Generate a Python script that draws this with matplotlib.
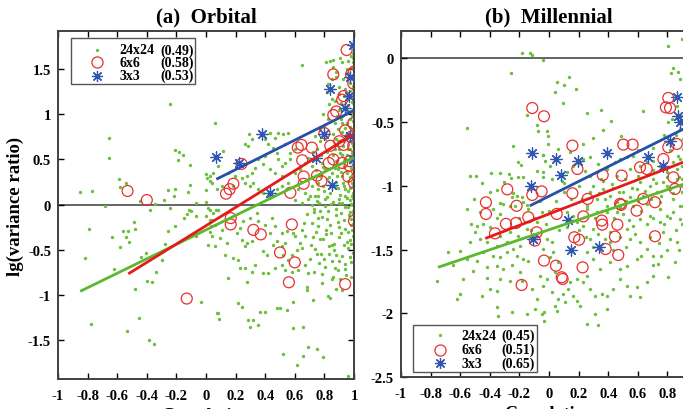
import numpy as np
import matplotlib
matplotlib.use("Agg")
import matplotlib.pyplot as plt
from matplotlib.patches import Rectangle
from matplotlib.ticker import FuncFormatter

plt.rcParams['font.family'] = ['Liberation Serif', 'DejaVu Serif']
plt.rcParams['font.weight'] = 'bold'
plt.rcParams['axes.unicode_minus'] = False

# ---------------- data: panel (a) Orbital ----------------
a_green = [
    (-0.24,1.11),(-0.655,0.737),(-0.658,0.52),(-0.21,0.603),(-0.185,0.581),(-0.155,0.552),(-0.19,0.489),
    (-0.11,0.437),(0.0,0.333),(0.01,0.296),(0.03,0.259),(-0.59,0.281),(-0.54,0.237),(-0.58,0.196),
    (-0.854,0.137),(-0.77,0.152),(-0.26,0.165),(-0.21,0.176),(-0.11,0.218),(0.0,0.163),(-0.214,0.093),
    (-0.124,0.137),(-0.448,0.037),(-0.347,0.011),(-0.284,0.048),(-0.685,-0.011),(-0.07,0.018),(0.0,0.033),
    (0.03,-0.056),(0.07,-0.056),(-0.38,-0.059),(-0.24,-0.037),(-0.117,-0.056),(-0.10,-0.074),(-0.126,-0.104),
    (-0.15,-0.148),(-0.21,-0.233),(-0.257,-0.289),(-0.065,-0.13),(0.0,-0.13),(0.04,-0.167),(0.036,-0.241),
    (-0.065,-0.344),(0.025,-0.307),(-0.79,-0.27),(-0.486,-0.196),(-0.482,-0.27),(-0.56,-0.296),(-0.527,-0.296),
    (-0.635,-0.359),(-0.538,-0.359),(-0.52,-0.419),(-0.58,-0.474),(-0.275,-0.441),(-0.403,-0.533),(-0.437,-0.585),
    (-0.295,-0.611),(-0.34,-0.744),(-0.82,-0.589),(-0.624,-0.711),(-0.399,-0.844),(-0.365,-0.859),(-0.482,-0.93),
    (-0.032,-1.081),(0.077,-1.196),(-0.453,-1.252),(-0.777,-1.319),(-0.532,-1.404),(-0.385,-1.50),(-0.351,-1.544),
    (0.651,1.548),(0.838,1.592),(0.86,1.603),(0.808,1.574),(0.905,1.618),(0.917,1.574),(0.962,1.592),(0.876,1.463),
    (0.849,1.389),(0.826,1.333),(0.815,1.241),(0.849,1.167),(0.831,1.111),(0.793,1.0),(0.826,0.944),(0.797,0.87),
    (0.77,0.833),(0.736,0.759),(0.77,0.704),(0.804,0.722),(0.06,0.907),(0.293,0.785),(0.309,0.722),(0.264,0.667),
    (0.286,0.648),(0.432,0.793),(0.466,0.741),(0.488,0.793),(0.522,0.778),(0.556,0.793),(0.399,0.722),(0.421,0.667),
    (0.455,0.63),(0.477,0.574),(0.534,0.667),(0.567,0.574),(0.601,0.611),(0.567,0.5),(0.534,0.463),(0.488,0.5),
    (0.511,0.426),(0.399,0.537),(0.354,0.5),(0.387,0.444),(0.432,0.389),(0.466,0.352),(0.511,0.315),(0.331,0.407),
    (0.309,0.352),(0.275,0.315),(0.241,0.296),(0.264,0.241),(0.297,0.204),(0.32,0.241),(0.117,0.593),(0.083,0.426),
    (0.05,0.352),(0.027,0.315),(0.038,0.241),(0.072,0.167),(0.106,0.204),(0.151,0.352),(0.196,0.315),(0.185,0.204),
    (0.354,0.167),(0.387,0.13),(0.421,0.093),(0.477,0.167),(0.511,0.204),(0.556,0.241),(0.601,0.352),(0.635,0.389),
    (0.669,0.463),(0.691,0.519),(0.714,0.426),(0.624,0.167),(0.669,0.13),(0.714,0.204),(0.759,0.167),(0.736,0.093),
    (0.691,0.056),(0.781,0.463),(0.804,0.389),(0.77,0.315),(0.815,0.278),(0.793,0.204),(0.759,0.093),(0.804,0.056),
    (0.838,0.13),(0.872,0.204),
    (0.883,0.981),(0.894,0.833),(0.917,0.907),(0.939,0.759),(0.928,0.648),(0.905,0.574),(0.894,0.389),(0.917,0.315),
    (0.928,0.241),(0.939,0.167),(0.905,0.111),(0.95,0.074),(0.883,0.315),(0.939,0.5),(0.962,0.611),(0.95,1.019),
    (0.962,1.167),(0.939,1.278),(0.928,1.389),(0.95,1.5),(0.973,0.944),(0.984,0.833),(0.995,0.648),(0.984,0.574),
    (0.995,0.389),(0.984,0.241),(0.995,0.13),(0.99,1.056),(0.99,1.315),(0.99,1.574),(0.979,1.648),
    (0.6,0.05),(0.65,0.02),(0.7,0.1),(0.75,0.04),(0.82,0.08),(0.86,0.03),(0.9,0.06),(0.93,0.2),(0.96,0.15),
    (0.97,0.3),(0.88,0.25),(0.85,0.35),(0.9,0.45),(0.95,0.35),(0.92,0.55),(0.97,0.7),(0.94,0.85),(0.91,0.95),
    (0.96,1.1),(0.93,1.2),(0.97,1.35),(0.95,1.45),(0.9,1.3),(0.87,0.62),(0.86,0.78),(0.89,0.7),(0.91,1.12),
    (0.995,-0.21),(0.995,-0.1),(0.995,0.0),(0.995,0.07),(0.995,0.2),(0.995,0.3),(0.995,0.45),(0.995,0.55),
    (0.995,0.72),(0.995,0.8),(0.995,0.92),(0.995,1.0),(0.995,1.12),(0.995,1.2),(0.995,1.28),(0.995,1.42),
    (0.995,1.5),(0.995,1.62),(0.995,1.68),
    (0.86,1.52),(0.88,1.41),(0.9,1.22),(0.87,1.15),(0.9,1.05),(0.92,0.98),(0.87,0.9),(0.95,0.9),(0.92,0.8),
    (0.96,0.78),(0.88,0.72),(0.93,0.7),(0.97,0.62),(0.9,0.62),(0.86,0.55),(0.95,0.55),(0.97,0.52),(0.88,0.48),
    (0.93,0.42),(0.98,0.4),(0.87,0.4),(0.91,0.36),(0.96,0.26),(0.89,0.18),(0.94,0.1),(0.97,0.05),(0.92,0.02),
    (0.88,-0.05),(0.96,-0.03),(0.98,-0.16),(0.93,-0.17),(0.89,-0.19),(0.96,-0.3),(0.91,-0.32),(0.98,-0.44),
    (0.93,-0.45),(0.88,-0.56),(0.97,-0.58),(0.94,-0.71),(0.98,-0.8),(0.985,1.52),(0.975,1.26),(0.985,1.14),
    (0.97,1.04),(0.985,0.98),(0.975,0.86),(0.985,0.68),(0.975,0.47),(0.985,0.33),(0.975,0.18),(0.985,0.09),
    (0.975,-0.08),(0.985,-0.28),(0.975,-0.39),
    (0.72,0.58),(0.75,0.62),(0.78,0.55),(0.82,0.58),(0.74,0.38),(0.79,0.42),(0.83,0.31),(0.72,0.3),(0.76,0.24),
    (0.8,0.15),(0.84,0.2),(0.73,-0.05),(0.77,-0.07),(0.82,-0.16),(0.84,-0.23),(0.79,-0.38),(0.74,-0.3),
    (0.71,-0.45),(0.83,-0.55),(0.8,-0.6),(0.85,-0.45),(0.76,-0.15),(0.68,-0.1),(0.66,-0.2),(0.7,-0.6),
    (0.75,-0.55),(0.87,-0.7),(0.85,-0.82),(0.9,-0.62),
    (0.016,-0.037),(0.05,-0.093),(0.083,-0.056),(0.027,-0.167),(0.061,-0.222),(0.106,-0.278),(0.038,-0.352),
    (0.095,-0.37),(0.14,-0.426),(0.016,-0.444),(0.061,-0.463),(0.128,-0.556),(0.185,-0.593),(0.218,-0.611),
    (0.151,-0.815),(0.275,-0.852),(0.23,-0.704),(0.264,-0.704),(0.241,-0.389),(0.275,-0.426),(0.264,-0.463),
    (0.309,-0.407),(0.207,-0.315),(0.23,-0.259),(0.252,-0.185),(0.297,-0.148),(0.342,-0.093),(0.354,-0.185),
    (0.399,-0.222),(0.444,-0.148),(0.466,-0.241),(0.432,-0.315),(0.387,-0.519),(0.41,-0.556),(0.455,-0.444),
    (0.477,-0.407),(0.511,-0.463),(0.534,-0.426),(0.522,-0.556),(0.556,-0.611),(0.579,-0.556),(0.613,-0.5),
    (0.646,-0.481),(0.635,-0.426),(0.601,-0.352),(0.669,-0.352),(0.646,-0.278),(0.59,-0.315),(0.545,-0.296),
    (0.511,-0.315),(0.331,-0.667),(0.309,-0.741),(0.387,-0.759),(0.421,-0.759),(0.466,-0.704),(0.511,-0.667),
    (0.534,-0.722),(0.579,-0.741),(0.624,-0.722),(0.669,-0.667),(0.691,-0.759),(0.68,-0.907),(0.68,-0.944),
    (0.725,-1.056),(0.781,-0.87),(0.838,-1.037),(0.59,-1.074),(0.477,-1.148),(0.5,-1.148),(0.545,-1.167),
    (0.399,-1.185),(0.365,-1.185),(0.218,-1.093),(0.241,-1.13),(0.286,-1.278),(0.297,-1.352),(0.32,-1.278),
    (0.354,-1.333),(0.079,-1.204),(0.088,-1.27),(0.59,-1.37),(0.658,-1.352),(0.691,-1.574),(0.748,-1.593),
    (0.793,-1.685),(0.522,-1.648),(0.658,-1.678),(0.613,-1.77),(0.962,-1.9),
    (0.714,0.0),(0.762,0.022),(0.806,-0.013),(0.846,0.006),(0.897,0.016),(0.936,-0.024),(0.981,0.004),
    (0.733,-0.087),(0.784,-0.135),(0.823,-0.069),(0.875,-0.117),(0.914,-0.088),(0.965,-0.119),(0.99,-0.068),
    (0.718,-0.209),(0.755,-0.236),(0.808,-0.283),(0.846,-0.31),(0.897,-0.247),(0.936,-0.272),(0.981,-0.227),
    (0.722,-0.357),(0.773,-0.384),(0.812,-0.328),(0.864,-0.431),(0.902,-0.364),(0.953,-0.413),(0.992,-0.347),
    (0.739,-0.495),(0.777,-0.542),(0.829,-0.458),(0.868,-0.505),(0.921,-0.569),(0.958,-0.486),(0.99,-0.531),
    (0.762,-0.643),(0.801,-0.69),(0.852,-0.625),(0.891,-0.728),(0.942,-0.662),(0.981,-0.635),
    (0.733,-0.746),(0.784,-0.772),(0.857,-0.801),(0.908,-0.827),(0.947,-0.783),(0.88,-0.931),(0.92,-0.94),
    (0.823,-1.015),
]
a_red = [
    (-0.53,0.15),(-0.40,0.05),(-0.13,-1.04),(0.135,0.12),(0.16,0.17),(0.185,0.23),(0.167,-0.15),(0.167,-0.22),
    (0.24,0.45),(0.32,-0.28),(0.37,-0.33),(0.57,0.13),(0.58,-0.22),(0.50,-0.53),(0.60,-0.64),(0.56,-0.86),
    (0.94,-0.88),(1.0,-0.18),(0.62,0.63),(0.645,0.66),(0.715,0.63),(0.66,0.31),(0.66,0.23),(0.65,0.49),
    (0.75,0.32),(0.78,0.26),(0.80,0.79),(0.83,0.46),(0.86,0.50),(0.86,0.99),(0.88,1.03),(0.86,1.44),(0.95,1.71),
    (0.98,1.44),(1.0,1.47),(0.92,1.16),(0.90,0.70),(0.98,0.75),(0.97,0.43),(0.96,0.31),(1.0,0.24),(0.995,1.34),
    (0.93,1.20),(0.995,0.90),(0.94,0.82),(0.92,0.46),(0.97,0.48),(0.995,0.65),(0.93,0.66),(0.84,0.65),
]
a_blue = [
    (0.07,0.53),(0.22,0.46),(0.38,0.78),(0.43,0.13),(0.74,0.51),(0.80,0.78),(0.84,1.28),(0.85,0.22),
    (0.94,1.07),(0.965,1.2),(0.97,1.41),(0.97,0.76),(0.99,1.76),(0.995,0.50),
]
# regression fits: (slope, intercept, x_start, x_end)
a_fits = {'24x24': (0.80, -0.28, -0.85, 1.0),
          '6x6':   (1.015, -0.234, -0.525, 1.0),
          '3x3':   (0.817, 0.223, 0.07, 1.0)}
a_r = {'24x24': '(0.49)', '6x6': '(0.58)', '3x3': '(0.53)'}

# ---------------- data: panel (b) Millennial ----------------
b_green = [
    (-0.185,0.042),(-0.128,0.042),(-0.117,0.028),(-0.043,-0.011),(-0.259,-0.115),(-0.554,-0.55),(-0.146,-0.445),
    (-0.083,-0.523),(-0.072,-0.568),(-0.241,-0.69),(-0.207,-0.81),(-0.191,-0.837),(-0.038,-0.756),(-0.534,-0.92),
    (-0.493,-0.925),(-0.392,-0.9),(-0.331,-0.9),(-0.268,-0.905),(-0.207,-0.928),(-0.173,-0.934),(-0.08,-0.886),
    (-0.038,-0.928),(-0.349,-1.03),(-0.304,-0.972),(-0.254,-0.94),(-0.507,-1.1),(-0.331,-1.135),(-0.309,-1.142),
    (-0.252,-1.09),(-0.241,-1.06),(-0.218,-1.077),(-0.184,-1.09),(-0.173,-1.13),(-0.229,-1.16),
    (0.806,0.094),(0.896,0.151),(0.824,-0.115),(0.84,-0.079),(0.874,-0.105),(0.885,-0.162),(0.056,-0.183),
    (0.137,-0.144),(0.101,-0.209),(0.182,-0.24),(0.041,-0.267),(0.093,-0.35),(0.255,-0.429),(0.351,-0.403),
    (0.417,-0.49),(0.633,-0.41),(0.367,-0.562),(0.295,-0.625),(0.232,-0.672),(0.484,-0.607),(0.863,-0.371),
    (0.829,-0.476),(0.806,-0.502),(-0.016,-0.568),(-0.005,-0.612),(-0.005,-0.672),(0.063,-0.711),(0.142,-0.737),
    (0.232,-0.79),(0.277,-0.777),(0.333,-0.829),(0.39,-0.868),(0.446,-0.816),(0.48,-0.79),(0.525,-0.777),
    (0.57,-0.764),(-0.038,-0.758),(-0.027,-0.803),(0.007,-0.842),(-0.038,-0.894),(0.018,-0.947),(0.086,-0.96),
    (0.119,-0.894),(0.164,-0.842),(0.209,-0.816),(0.243,-0.881),(0.277,-0.92),(0.322,-0.894),(0.367,-0.96),
    (0.424,-0.986),(0.457,-0.92),(0.514,-0.947),(0.547,-0.868),(0.615,-0.842),(0.66,-0.816),(0.705,-0.803),
    (0.75,-0.842),(0.795,-0.894),(0.84,-0.816),(0.885,-0.79),
    (0.277,-1.051),(0.322,-1.103),(0.367,-1.025),(0.412,-1.077),(0.457,-1.129),(0.502,-1.051),(0.547,-1.09),
    (0.592,-1.025),(0.637,-1.077),(0.683,-0.999),(0.728,-1.051),(0.773,-0.973),(0.818,-1.025),(0.863,-0.947),
    (0.896,-0.999),(0.39,-1.155),(0.48,-1.169),(0.57,-1.155),(0.66,-1.142),(0.75,-1.129),(0.84,-1.103),
    (0.885,-1.155),(0.615,-0.973),(0.705,-0.947),(0.795,-0.934),(0.863,-0.868),(0.896,-0.842),(0.874,-0.764),
    (0.903,-0.711),(0.907,-0.633),(0.885,-0.555),(0.896,-0.45),
    (-0.556,-1.182),(-0.527,-1.3),(-0.489,-1.312),(-0.5,-1.365),(-0.444,-1.3),(-0.399,-1.326),(-0.466,-1.417),
    (-0.421,-1.443),(-0.354,-1.469),(-0.331,-1.391),(-0.286,-1.443),(-0.241,-1.496),(-0.196,-1.469),(-0.376,-1.548),
    (-0.331,-1.561),(-0.286,-1.522),(-0.218,-1.548),(-0.173,-1.574),(-0.444,-1.522),(-0.489,-1.587),(-0.556,-1.574),
    (-0.6,-1.509),(-0.511,-1.666),(-0.421,-1.64),(-0.354,-1.627),(-0.309,-1.653),(-0.263,-1.744),(-0.331,-1.731),
    (-0.399,-1.81),(-0.354,-1.823),(-0.456,-1.862),(-0.579,-1.731),(-0.6,-1.849),(-0.624,-1.888),(-0.754,-1.744),
    (-0.354,-1.954),(-0.342,-2.024),(-0.252,-1.993),(-0.151,-2.006),(-0.083,-1.888),(-0.095,-1.967),(-0.05,-2.006),
    (-0.117,-1.81),(-0.061,-1.705),(-0.14,-1.587),(-0.196,-1.679),(-0.263,-1.365),(-0.207,-1.391),(-0.151,-1.339),
    (-0.083,-1.286),(-0.05,-1.208),(-0.14,-1.182),(-0.263,-1.156),(-0.331,-1.221),(-0.376,-1.182),(-0.466,-1.209),
    (-0.533,-1.443),
    (-0.016,-1.417),(0.018,-1.443),(-0.038,-1.496),(0.007,-1.561),(0.029,-1.522),(0.063,-1.6),(0.041,-1.679),
    (-0.016,-1.731),(-0.038,-1.783),(0.018,-1.836),(0.063,-1.888),(0.097,-1.849),(0.131,-1.81),(0.164,-1.862),
    (0.187,-1.901),(0.209,-1.941),(0.041,-1.941),(0.052,-1.98),(0.108,-1.914),(0.142,-1.757),(0.187,-1.731),
    (0.232,-1.757),(0.255,-1.705),(0.277,-1.81),(0.311,-1.862),(0.356,-1.849),(0.39,-1.862),(0.435,-1.81),
    (0.48,-1.731),(0.525,-1.783),(0.547,-1.862),(0.592,-1.797),(0.615,-1.875),(0.66,-1.757),(0.705,-1.705),
    (0.739,-1.614),(0.806,-1.718),(0.851,-1.6),(0.863,-1.443),(0.818,-1.417),(0.773,-1.365),(0.75,-1.286),
    (0.795,-1.234),(0.84,-1.208),(0.885,-1.26),(0.907,-1.156),(0.75,-1.182),(0.683,-1.234),(0.615,-1.26),
    (0.57,-1.312),(0.525,-1.339),(0.547,-1.417),(0.615,-1.443),(0.66,-1.496),(0.705,-1.548),(0.592,-1.574),
    (0.525,-1.627),(0.48,-1.653),(0.412,-1.6),(0.345,-1.653),(0.3,-1.574),(0.255,-1.522),(0.277,-1.417),
    (0.3,-1.339),(0.232,-1.312),(0.187,-1.286),(0.164,-1.234),(0.119,-1.208),(0.074,-1.182),(0.412,-1.365),
    (0.412,-1.443),(0.39,-1.208),(0.457,-1.208),(0.322,-1.208),(0.255,-1.156),(-0.034,-1.993),(-0.034,-2.058),
    (0.255,-2.084),(0.333,-2.09),(0.311,-2.006),(0.39,-1.967),
    (0.3,-1.0),(0.34,-1.06),(0.38,-1.1),(0.43,-1.02),(0.47,-1.05),(0.52,-1.12),(0.56,-1.02),(0.6,-1.12),
    (0.65,-1.04),(0.69,-1.1),(0.72,-0.98),(0.76,-1.08),(0.8,-1.0),(0.84,-1.06),(0.88,-0.93),(0.22,-1.1),
    (0.26,-1.18),(0.31,-1.25),(0.36,-1.2),(0.44,-1.25),(0.5,-1.22),(0.54,-1.27),(0.62,-1.2),(0.66,-1.3),
    (0.7,-1.25),(0.78,-1.3),(0.82,-1.25),(0.86,-1.35),(0.9,-1.3),(0.2,-1.35),(0.25,-1.4),(0.33,-1.38),
    (0.38,-1.42),(0.48,-1.4),(0.58,-1.38),(0.68,-1.4),(0.74,-1.45),(0.8,-1.5),(0.88,-1.5),(0.3,-1.48),
    (0.43,-1.5),(0.52,-1.48),(0.62,-1.55),(0.7,-1.62),(0.76,-1.55),(0.1,-1.05),(0.05,-1.12),(0.0,-1.2),
    (0.12,-1.32),(0.07,-1.35),(-0.02,-1.3),(-0.1,-1.25),(-0.06,-1.12),(0.15,-1.1),(0.2,-1.0),(0.1,-0.98),
    (0.35,-0.95),(0.6,-0.92),(0.7,-0.88),(0.82,-0.72),(0.78,-0.6),(0.86,-0.6),(0.7,-0.7),(0.6,-0.72),
    (0.9,-0.95),(0.9,-1.05),(-0.4,-1.05),(-0.45,-0.98),(-0.35,-1.25),(-0.3,-1.35),(-0.2,-1.25),(-0.15,-1.15),
    (-0.12,-1.35),(-0.25,-1.62),(-0.18,-1.75),(-0.42,-1.72),(-0.65,-1.62),(-0.68,-1.52),
]
b_red = [
    (-0.113,-0.39),(-0.034,-0.455),(-0.282,-1.028),(-0.426,-1.13),(-0.219,-1.157),(-0.113,-1.072),(-0.05,-1.044),
    (0.158,-0.685),(0.192,-0.868),(0.363,-0.915),(0.502,-0.677),(0.565,-0.677),(0.491,-0.92),(0.158,-1.059),
    (0.261,-1.103),(0.806,-0.311),(0.79,-0.385),(0.818,-0.39),(0.806,-0.698),(0.863,-0.672),(0.615,-0.855),
    (0.66,-0.868),(0.773,-0.79),(0.84,-0.934),(0.48,-1.142),(0.716,-1.129),(0.637,-1.103),(0.851,-1.025),
    (-0.426,-1.221),(-0.291,-1.299),(-0.223,-1.292),(-0.14,-1.247),(-0.365,-1.373),(-0.083,-1.365),(-0.095,-1.43),
    (-0.185,-1.778),(-0.034,-1.587),(0.052,-1.221),(0.232,-1.24),(0.487,-1.15),(0.592,-1.195),(0.356,-1.273),
    (0.36,-1.305),(0.462,-1.305),(0.446,-1.399),(0.171,-1.404),(0.203,-1.423),(0.383,-1.496),(0.468,-1.543),
    (0.716,-1.396),(0.047,-1.627),(0.227,-1.64),(0.086,-1.718),(0.092,-1.731),
]
b_blue = [
    (-0.117,-0.746),(-0.124,-1.0),(0.045,-0.79),(0.198,-0.808),(0.079,-0.913),(0.39,-0.745),(0.671,-0.777),
    (0.772,-0.842),(0.867,-0.3),(0.874,-0.45),(0.885,-0.5),(0.818,-0.646),(-0.106,-1.417),(0.131,-1.268),
    (0.146,-1.501),(0.34,-1.482),
]
b_fits = {'24x24': (0.393, -1.345, -0.75, 1.0),
          '6x6':   (0.447, -1.221, -0.43, 1.0),
          '3x3':   (0.58, -1.082, -0.13, 1.0)}
b_r = {'24x24': '(0.45)', '6x6': '(0.51)', '3x3': '(0.65)'}

x_ticks = [-1, -0.8, -0.6, -0.4, -0.2, 0, 0.2, 0.4, 0.6, 0.8, 1]

# ---------------- styles ----------------
GREEN = '#6cc03c'
GREEN_L = '#5cb82e'
RED = '#e8302e'
RED_L = '#e51b1b'
BLUE = '#2f56b0'
BLUE_L = '#2550a8'
AST = (8, 2, 0)
SPINE = '#404040'


def draw_panel(ax, green, red, blue, fits, rvals, ylim, yticks, title, leg_box, leg_rows):
    g = np.array(green); r = np.array(red); b = np.array(blue)
    ax.axhline(0, color='#3a3a3a', lw=1.1, zorder=1)
    ax.scatter(g[:, 0], g[:, 1], s=6, color=GREEN, linewidths=0, zorder=2)
    ax.scatter(r[:, 0], r[:, 1], s=62, facecolors='none', edgecolors=RED, linewidths=0.9, zorder=3)
    ax.scatter(b[:, 0], b[:, 1], s=64, marker=AST, color=BLUE, linewidths=0.9, zorder=4)
    for key, col in (('24x24', GREEN_L), ('6x6', RED_L), ('3x3', BLUE_L)):
        k, c, x0, x1 = fits[key]
        xs = np.array([x0, x1])
        ax.plot(xs, k * xs + c, color=col, lw=2.0, zorder=5, solid_capstyle='butt')
    ax.set_xlim(-1, 1)
    ax.set_ylim(*ylim)
    ax.set_xticks(x_ticks)
    ax.set_yticks(yticks)
    fmt = FuncFormatter(lambda v, p: ('%g' % round(v, 2)))
    ax.xaxis.set_major_formatter(fmt)
    ax.yaxis.set_major_formatter(fmt)
    ax.tick_params(direction='in', top=True, right=True, length=4.5, width=1.0,
                   labelsize=10.5, colors='black', pad=5)
    ax.tick_params(axis='x', pad=7)
    for s in ax.spines.values():
        s.set_color(SPINE)
        s.set_linewidth(1.4)
    ax.set_title(title, fontsize=15, fontweight='bold', pad=7)
    ax.set_xlabel('Correlation', fontsize=13, fontweight='bold', labelpad=4)
    # legend box
    bx0, by0, bx1, by1 = leg_box
    ax.add_patch(Rectangle((bx0, by0), bx1 - bx0, by1 - by0, transform=ax.transAxes,
                           facecolor='white', edgecolor='#555555', lw=1.0, zorder=10))
    mx, nx, vx, ys = leg_rows
    styles = [('24x24', dict(marker='o', ms=2.4, color=GREEN, ls='none', mew=0)),
              ('6x6', dict(marker='o', ms=8, mfc='none', mec=RED, mew=0.9, ls='none')),
              ('3x3', dict(marker=AST, ms=8, color=BLUE, mew=0.9, ls='none'))]
    for (name, st), yy in zip(styles, ys):
        ax.plot([mx], [yy], transform=ax.transAxes, zorder=11, **st)
        ax.text(nx, yy, name, transform=ax.transAxes, fontsize=10, fontweight='bold',
                va='center', ha='left', zorder=11)
        ax.text(vx, yy, rvals[name], transform=ax.transAxes, fontsize=10, fontweight='bold',
                va='center', ha='left', zorder=11)


fig = plt.figure(figsize=(6.83, 4.10), dpi=100)
axA = fig.add_axes([58 / 683, 1 - 380 / 410, 296 / 683, 348 / 410])
axB = fig.add_axes([401 / 683, 1 - 378 / 410, 296 / 683, 346 / 410])

draw_panel(axA, a_green, a_red, a_blue, a_fits, a_r, (-1.93, 1.92),
           [-1.5, -1, -0.5, 0, 0.5, 1, 1.5], '(a)  Orbital',
           (0.043, 0.848, 0.462, 0.979), (0.132, 0.208, 0.345, [0.946, 0.910, 0.872]))
draw_panel(axB, b_green, b_red, b_blue, b_fits, b_r, (-2.5, 0.214),
           [-2.5, -2, -1.5, -1, -0.5, 0], '(b)  Millennial',
           (0.0395, 0.015, 0.4605, 0.150), (0.132, 0.205, 0.338, [0.121, 0.079, 0.040]))

axA.set_ylabel('lg(variance ratio)', fontsize=13.5, fontweight='bold', labelpad=3)

fig.savefig('out.png', dpi=100)
